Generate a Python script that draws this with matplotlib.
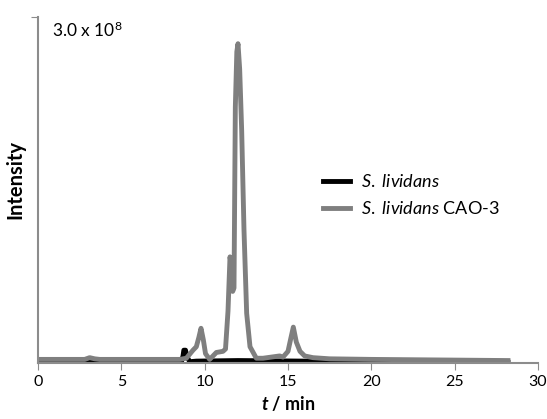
import matplotlib.pyplot as plt

GRAY = "#7f7f7f"
SPINE = "#8c8c8c"

# retention time (min) and intensity (x 1e8)
wt_time = [0, 8.6, 8.7, 8.75, 8.85, 8.95, 9.1, 9.5, 12.0, 16.0, 17.5, 28.2]
wt_int = [0.005, 0.006, 0.06, 0.11, 0.11, 0.05, 0.01, 0.015, 0.02, 0.015, 0.006, 0.005]

cao_time = [0, 2.8, 3.1, 3.4, 3.7, 8.5, 8.9, 9.3, 9.5, 9.65, 9.78, 9.92, 10.05, 10.3,
            10.7, 11.1, 11.25, 11.4, 11.52, 11.6, 11.68, 11.76, 11.84, 11.93, 12.0, 12.1,
            12.22, 12.36, 12.52, 12.72, 13.1, 13.5, 14.0, 14.5, 14.7, 15.0, 15.15,
            15.32, 15.5, 15.72, 16.0, 16.5, 17.5, 20.0, 28.2]
cao_int = [0.03, 0.03, 0.045, 0.035, 0.03, 0.03, 0.04, 0.11, 0.14, 0.22, 0.30, 0.2,
           0.08, 0.03, 0.09, 0.1, 0.12, 0.45, 0.92, 0.85, 0.62, 0.65, 2.22, 2.7, 2.77,
           2.55, 2.02, 1.15, 0.43, 0.14, 0.04, 0.04, 0.05, 0.06, 0.05, 0.1, 0.2, 0.31,
           0.18, 0.1, 0.06, 0.045, 0.035, 0.03, 0.02]

x_ticks = [0, 5, 10, 15, 20, 25, 30]

plt.rcParams["font.family"] = ["Lato", "DejaVu Sans"]
plt.rcParams["mathtext.fontset"] = "custom"
plt.rcParams["mathtext.rm"] = "Lato"
plt.rcParams["mathtext.it"] = "Lato:italic"
plt.rcParams["mathtext.bf"] = "Lato:bold"
plt.rcParams["mathtext.bfit"] = "Lato:bold:italic"

fig = plt.figure(figsize=(5.47, 4.19), dpi=100)
ax = fig.add_axes([0.0695, 0.134, 0.914, 0.825])

ax.plot(wt_time, wt_int, color="black", linewidth=3.5, label="$\\it{S.}$ $\\it{lividans}$")
ax.plot(cao_time, cao_int, color=GRAY, linewidth=3.5,
        label="$\\it{S.}$ $\\it{lividans}$ CAO-3")

ax.set_xlim(0, 30)
ax.set_ylim(0, 3.0)
ax.set_xticks(x_ticks)
ax.set_yticks([3.0])
ax.set_yticklabels([])
ax.tick_params(axis="x", direction="out", length=5, color=SPINE, labelsize=11.5, pad=4)
ax.tick_params(axis="y", direction="out", length=5, color=SPINE)

for side in ["top", "right"]:
    ax.spines[side].set_visible(False)
for side in ["left", "bottom"]:
    ax.spines[side].set_color(SPINE)
    ax.spines[side].set_linewidth(1.5)

ax.text(0.028, 0.963, "3.0 x 10$^{8}$", transform=ax.transAxes, fontsize=12.5, va="center")

ax.set_xlabel("$\\bfit{t}$ / min", fontsize=13, fontweight="bold", labelpad=3)
ax.set_ylabel("Intensity", fontsize=14.5, fontweight="bold", labelpad=0)
ax.yaxis.set_label_coords(-0.026, 0.53)

ax.legend(loc="center left", bbox_to_anchor=(0.537, 0.485), frameon=False, fontsize=13,
          handlelength=1.5, handletextpad=0.6, labelspacing=0.55)

fig.savefig("out.png", dpi=100)
